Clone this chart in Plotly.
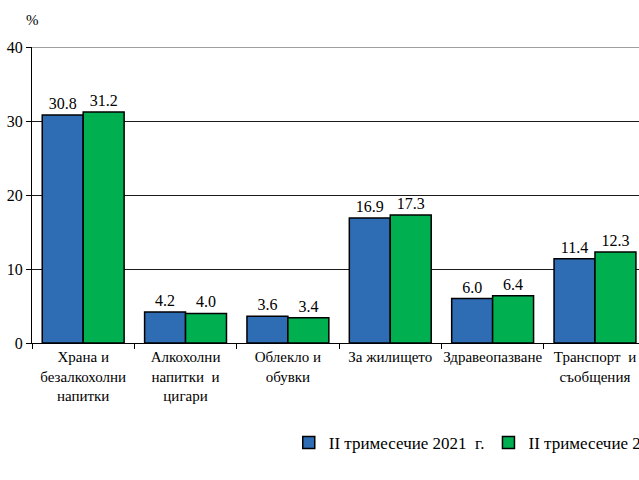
import plotly.graph_objects as go

categories = ["Храна и<br>безалкохолни<br>напитки", "Алкохолни<br>напитки  и<br>цигари",
              "Облекло и<br>обувки", "За жилището", "Здравеопазване", "Транспорт  и<br>съобщения"]
series_2021 = [30.8, 4.2, 3.6, 16.9, 6.0, 11.4]
series_2022 = [31.2, 4.0, 3.4, 17.3, 6.4, 12.3]
name_2021 = "II тримесечие 2021  г."
name_2022 = "II тримесечие 2022  г."
y_ticks = [0, 10, 20, 30, 40]

FONT = "Times New Roman, Liberation Serif, serif"

fig = go.Figure()
fig.add_trace(go.Bar(
    x=categories, y=series_2021, name=name_2021,
    marker=dict(color="#2E6DB4", line=dict(color="#000000", width=1.5)),
    text=[f"{v:.1f}" for v in series_2021], textposition="outside",
    textfont=dict(family=FONT, size=16, color="#000"), cliponaxis=False,
    showlegend=True, legend="legend",
))
fig.add_trace(go.Bar(
    x=categories, y=series_2022, name=name_2022,
    marker=dict(color="#00B050", line=dict(color="#000000", width=1.5)),
    text=[f"{v:.1f}" for v in series_2022], textposition="outside",
    textfont=dict(family=FONT, size=16, color="#000"), cliponaxis=False,
    showlegend=True, legend="legend2",
))

fig.update_layout(
    width=639, height=480,
    margin=dict(l=32, r=0, t=47, b=137, autoexpand=False),
    paper_bgcolor="white", plot_bgcolor="white",
    font=dict(family=FONT, size=15, color="#000"),
    showlegend=True,
    barmode="group", bargap=0.2, bargroupgap=0,
    legend=dict(visible=True, orientation="v", x=0.423, y=-0.338, xanchor="left", yanchor="middle",
                font=dict(family=FONT, size=17, color="#000"), itemwidth=30,
                bgcolor="rgba(0,0,0,0)"),
    legend2=dict(visible=True, orientation="v", x=0.752, y=-0.338, xanchor="left", yanchor="middle",
                 font=dict(family=FONT, size=17, color="#000"), itemwidth=30,
                 bgcolor="rgba(0,0,0,0)"),
    xaxis=dict(range=[-0.5, 5.43], showline=True, linecolor="#000", linewidth=1,
               ticks="outside", tickson="boundaries", ticklen=5, tickcolor="#000",
               tickangle=0,
               tickfont=dict(family=FONT, size=15, color="#000"), showgrid=False),
    yaxis=dict(range=[0, 40], tickvals=y_ticks, showline=True, linecolor="#000", linewidth=1,
               ticks="outside", ticklen=5, tickcolor="#000",
               showgrid=True, gridcolor="#1a1a1a", gridwidth=1, zeroline=False,
               tickfont=dict(family=FONT, size=16, color="#000")),
    annotations=[dict(text="%", xref="paper", yref="paper", x=0, y=1, xanchor="center",
                      yanchor="bottom", yshift=17, showarrow=False,
                      font=dict(family=FONT, size=15, color="#000"))],
    shapes=[dict(type="line", xref="paper", yref="y", x0=0, x1=1, y0=40, y1=40,
                 line=dict(color="#808080", width=1.5))],
)

fig.write_html("out.html", config={"displayModeBar": False},
               post_script="document.body.style.margin='0px';")
